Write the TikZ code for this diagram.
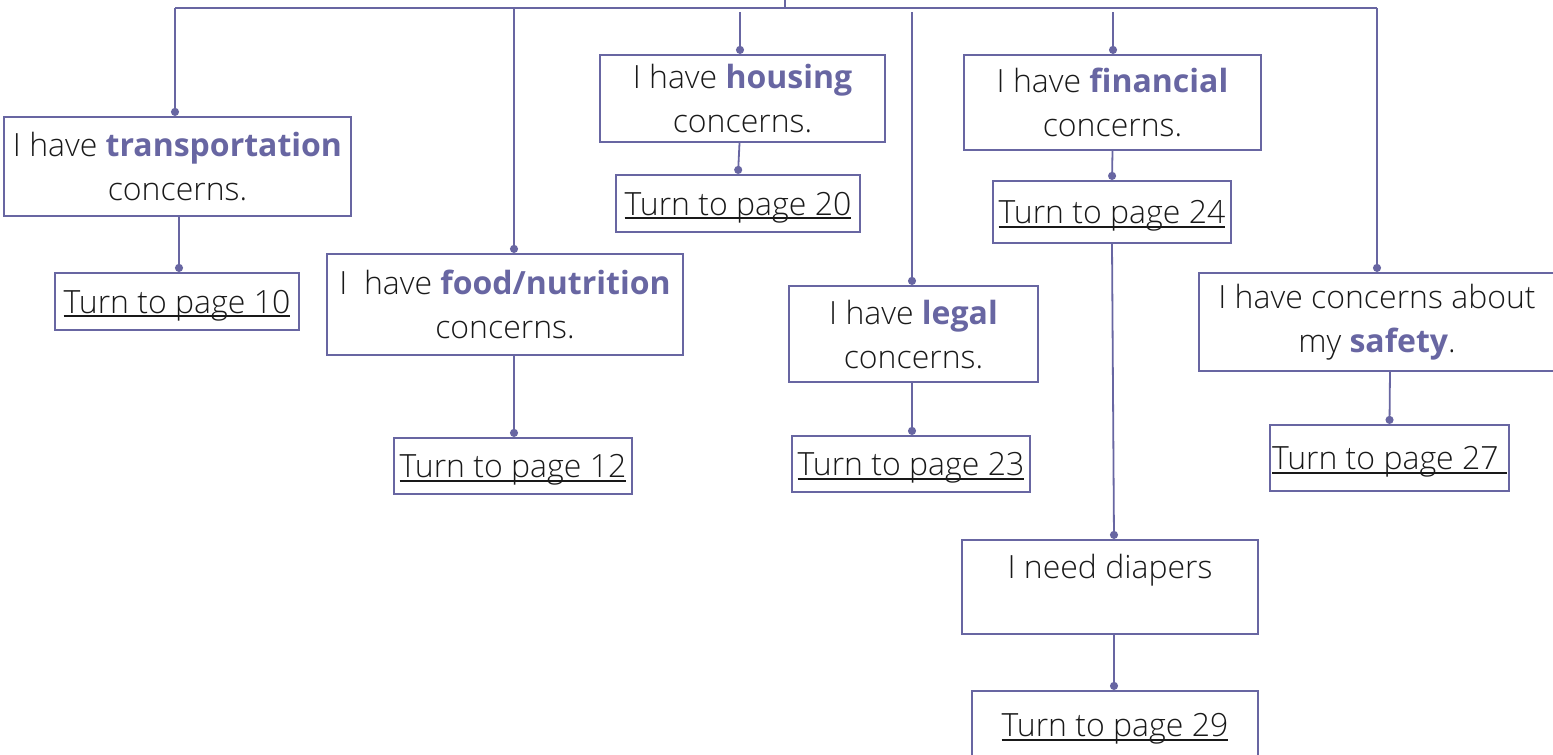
\documentclass[tikz,border=0pt]{standalone}
\usepackage{fontspec}
\setmainfont{Open Sans Light}[BoldFont={Open Sans Bold}]
\usetikzlibrary{arrows.meta}
\definecolor{pur}{RGB}{104,102,162}
\newcommand\hl[1]{\textbf{\textcolor{pur}{#1}}}
\newcommand\myul[1]{\setbox0\hbox{#1}\rlap{\rule[-4pt]{\wd0}{1.8pt}}\box0}
\tikzset{
  box/.style={draw=pur, line width=2.2pt, rectangle, inner sep=0pt, align=center,
    font=\fontsize{32}{44}\selectfont, text=black!90},
  pagebox/.style={box, text height=27pt, text depth=4pt},
  conn/.style={draw=pur, line width=1.8pt, -{Circle[length=8pt,width=8pt]}},
  bus/.style={draw=pur, line width=1.8pt},
}
\begin{document}
\begin{tikzpicture}[x=1pt,y=-1pt]
\useasboundingbox (0,0) rectangle (1553,755);
\clip (0,0) rectangle (1553,755);
% boxes
\node[box, minimum width=347, minimum height=99] (trans) at (177.5,166.5) {I have \hl{transportation}\\concerns.};
\node[pagebox, minimum width=244, minimum height=57] (p10) at (177,301.5) {\myul{Turn to page 10}};
\node[box, minimum width=356, minimum height=101] (food) at (505,304.5) {I\ \ have \hl{food/nutrition}\\concerns.};
\node[pagebox, minimum width=238, minimum height=56] (p12) at (513,466) {\myul{Turn to page 12}};
\node[box, minimum width=285, minimum height=87] (house) at (742.5,98.5) {I have \hl{housing}\\concerns.};
\node[pagebox, minimum width=244, minimum height=57] (p20) at (738,203.5) {\myul{Turn to page 20}};
\node[box, minimum width=249, minimum height=96] (legal) at (913.5,334) {I have \hl{legal}\\concerns.};
\node[pagebox, minimum width=238, minimum height=56] (p23) at (911,464) {\myul{Turn to page 23}};
\node[box, minimum width=297, minimum height=95] (fin) at (1112.5,102.5) {I have \hl{financial}\\concerns.};
\node[pagebox, minimum width=238, minimum height=62] (p24) at (1112,212) {\myul{Turn to page 24}};
\node[box, text height=24pt, text depth=42pt, minimum width=296, minimum height=94] (diap) at (1110,587) {I need diapers};
\node[pagebox, minimum width=286, minimum height=68] (p29) at (1115,725) {\myul{Turn to page 29}};
\node[box, minimum width=356, minimum height=98] (safe) at (1377,322) {I have concerns about\\my \hl{safety}.};
\node[pagebox, minimum width=239, minimum height=66] (p27) at (1389.5,458) {\myul{Turn to page 27\ }};
% bus
\coordinate (busL) at (175,8);
\coordinate (busR) at (1377,8);
\coordinate (stubT) at (785,0);
\coordinate (stubB) at (785,8);
\coordinate (bFood) at (514,8);
\coordinate (bHouse) at (740,12);
\coordinate (bLegal) at (912,12);
\coordinate (bFin) at (1113,12);
\draw[bus] (busL) -- (busR);
\draw[bus] (stubT) -- (stubB);
% connectors from bus
\draw[conn] (busL) -- (busL |- trans.north);
\draw[conn] (bFood) -- (bFood |- food.north);
\draw[conn] (bHouse) -- (bHouse |- house.north);
\draw[conn] (bLegal) -- (bLegal |- legal.north);
\draw[conn] (bFin) -- (bFin |- fin.north);
\draw[conn] (busR) -- (busR |- safe.north);
% connectors to page boxes
\draw[conn] ([xshift=1.5pt]trans.south) -- ([xshift=2pt]p10.north);
\draw[conn] ([xshift=9pt]food.south) -- ([xshift=1pt]p12.north);
\draw[conn] ([xshift=-3pt]house.south) -- (p20.north);
\draw[conn] ([xshift=-1.5pt]legal.south) -- ([xshift=1pt]p23.north);
\draw[conn] (fin.south) -- (p24.north);
\draw[conn] (p24.south) -- ([xshift=4pt]diap.north);
\draw[conn] ([xshift=4pt]diap.south) -- ([xshift=-1pt]p29.north);
\draw[conn] ([xshift=13pt,yshift=2pt]safe.south) -- (p27.north);
\end{tikzpicture}
\end{document}
